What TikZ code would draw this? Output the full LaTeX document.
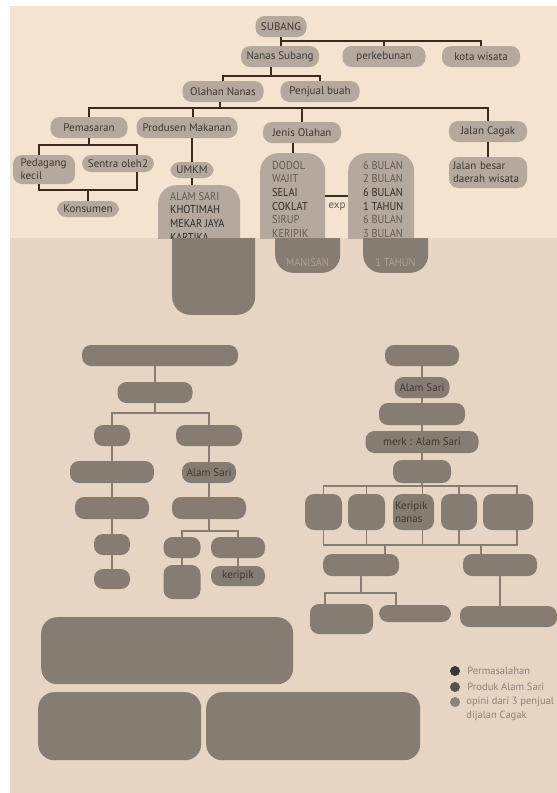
\documentclass[tikz,border=0pt]{standalone}
\usepackage{fontspec}
\setmainfont{PT Sans}
\newfontfamily\condfont[FakeStretch=0.9]{PT Sans}
\usetikzlibrary{positioning}
\definecolor{topbg}{HTML}{F3E3CF}
\definecolor{botbg}{HTML}{E5D5C2}
\definecolor{lite}{HTML}{B4A99C}
\definecolor{dark}{HTML}{877C72}
\definecolor{linebrown}{HTML}{3B2A20}
\definecolor{inktext}{HTML}{3D3733}
\definecolor{listink}{HTML}{2E2A27}
\definecolor{greytext}{HTML}{5F5A55}
\definecolor{paletext}{HTML}{ABA197}
\definecolor{legendtext}{HTML}{8C8178}
\definecolor{dotone}{HTML}{3A3734}
\definecolor{dottwo}{HTML}{57514C}
\definecolor{dotthree}{HTML}{8A8079}
\tikzset{
every node/.style={inner sep=0pt, font=\fontsize{11}{13}\selectfont, text=inktext}, % plain text everywhere
pill/.style={fill=lite, rounded corners=9pt, minimum height=21pt}, % light boxes of the upper tree
darkpill/.style={fill=dark, rounded corners=9pt, minimum height=21pt}, % dark boxes of the lower trees
bigbox/.style={fill=dark, rounded corners=16pt, anchor=north west}, % the three large boxes at the bottom
tall/.style={fill=lite, rounded corners=18pt, anchor=north west}, % list boxes, cut at the band edge
stub/.style={fill=dark, rounded corners=18pt, anchor=south west}, % their dark lower ends
list/.style={align=left, anchor=north west, font=\condfont\fontsize{11.5}{13.6}\selectfont, text=greytext},
tline/.style={draw=linebrown, line width=2pt}, % connectors of the upper tree
bline/.style={draw=dark, line width=1.3pt}, % connectors of the lower trees
legend/.style={text=legendtext, align=left, font=\fontsize{10.5}{14.5}\selectfont},
}
\begin{document}
\begin{tikzpicture}[x=1pt, y=-1pt]
  \useasboundingbox (0,0) rectangle (557,793);
  \fill[white] (0,0) rectangle (557,793);
  \fill[topbg] (10,6) rectangle (557,238);
  \fill[botbg] (10,238) rectangle (557,793);

  % upper tree
  \node[pill, minimum width=51pt] (subang) at (281,26.5) {SUBANG};
  \node[pill, minimum width=78pt] (nanas) at (280,56.5) {Nanas Subang};
  \node[pill, minimum width=83pt] (kebun) at (384,56.5) {perkebunan};
  \node[pill, minimum width=78pt] (kota) at (481,56.5) {kota wisata};
  \node[pill, minimum width=81pt] (olahan) at (223,91.5) {Olahan Nanas};
  \node[pill, minimum width=79pt] (penjual) at (320,91.5) {Penjual buah};
  \node[pill, minimum width=77pt] (pasar) at (89,127.5) {Pemasaran};
  \node[pill, minimum width=101pt] (produsen) at (187,127.5) {Produsen Makanan};
  \node[pill, minimum width=78pt] (jenis) at (302,132.5) {Jenis Olahan};
  \node[pill, minimum width=78pt] (cagak) at (488,131.5) {Jalan Cagak};
  \node[pill, minimum width=62pt, minimum height=29pt, align=left, text width=47pt] (pedagang) at (44,169.5) {Pedagang\\kecil};
  \node[pill, minimum width=72pt, minimum height=17pt] (sentra) at (118,163.5) {Sentra oleh2};
  \node[pill, minimum width=62pt, minimum height=16pt] (konsumen) at (88,209) {Konsumen};
  \node[pill, minimum width=43pt, minimum height=16pt] (umkm) at (192,170) {UMKM};
  \node[pill, minimum width=78pt, minimum height=31pt, align=left, text width=70pt] (besar) at (488,172.5) {Jalan besar\\daerah wisata};

  \coordinate (busa) at (0,41);
  \coordinate (busb) at (0,76);
  \coordinate (busc) at (0,108);
  \coordinate (busd) at (0,145);
  \coordinate (buse) at (0,190);
  \coordinate (expy) at (0,196);

  \draw[tline] (subang) -- (subang |- nanas.north);
  \draw[tline] (subang |- busa) -| (kota);
  \draw[tline] (kebun) -- (kebun |- busa);
  \draw[tline] ([xshift=-9pt]nanas.south) -- ([xshift=-9pt]nanas.south |- busb);
  \draw[tline] (olahan) |- (penjual |- busb) -- (penjual);
  \draw[tline] ([xshift=-3pt]olahan.south) -- ([xshift=-3pt]olahan.south |- busc);
  \draw[tline] (pasar) |- (cagak |- busc) -- (cagak);
  \draw[tline] ([xshift=6pt]produsen.north) -- ([xshift=6pt]produsen.north |- busc);
  \draw[tline] (jenis) -- (jenis |- busc);
  \draw[tline] (pasar) -- (pasar |- busd);
  \draw[tline] ([xshift=-5pt]pedagang.north) |- ([xshift=19pt]sentra.north |- busd) -- ([xshift=19pt]sentra.north);
  \draw[tline] ([xshift=-5pt]pedagang.south) |- ([xshift=19pt]sentra.south |- buse) -- ([xshift=19pt]sentra.south);
  \draw[tline] (konsumen) -- (konsumen |- buse);
  \draw[tline] (umkm) -- (umkm |- produsen.south);
  \draw[tline] (cagak) edge (besar);

  % list boxes, cut by the lower band
  \begin{scope}
    \clip (10,6) rectangle (557,238);
    \node[tall, minimum width=82pt, minimum height=80pt] (merkbox) at (158,185) {};
    \node[tall, minimum width=65pt, minimum height=110pt] (olahbox) at (260,153) {};
    \node[tall, minimum width=66pt, minimum height=110pt] (umurbox) at (348,153) {};
    \node[list] (merklist) at (170,192) {ALAM SARI\\\textcolor{listink}{KHOTIMAH}\\\textcolor{listink}{MEKAR JAYA}\\\textcolor{listink}{KARTIKA}};
    \node[list] (olahlist) at (272,161) {DODOL\\WAJIT\\\textcolor{listink}{SELAI}\\\textcolor{listink}{COKLAT}\\SIRUP\\KERIPIK};
    \node[list] (umurlist) at (363,161) {6 BULAN\\2 BULAN\\\textcolor{listink}{6 BULAN}\\\textcolor{listink}{1 TAHUN}\\6 BULAN\\3 BULAN};
  \end{scope}
  \draw[tline] (umkm) -- (umkm |- merkbox.north);
  \draw[tline] (olahbox.north) -- (olahbox.north |- jenis.south);
  \draw[tline] (olahbox.east |- expy) -- (umurbox.west |- expy);
  \node[text=greytext] (exp) at (337,207) {exp};

  \begin{scope}
    \clip (10,238) rectangle (557,793);
    \node[stub, minimum width=83pt, minimum height=100pt] (merkstub) at (172,315) {};
    \node[stub, minimum width=65pt, minimum height=60pt] (olahstub) at (275,273) {};
    \node[stub, minimum width=65pt, minimum height=60pt] (umurstub) at (363,273) {};
  \end{scope}
  \node[font=\condfont\fontsize{11.5}{14}\selectfont, text=paletext] (manisan) at (307.5,262) {MANISAN};
  \node[font=\condfont\fontsize{11.5}{14}\selectfont, text=paletext] (setahun) at (395.5,262) {1 TAHUN};

  % lower left tree
  \node[darkpill, minimum width=156pt] (l1) at (160,355.5) {};
  \node[darkpill, minimum width=75pt] (l2) at (155,392.5) {};
  \node[darkpill, minimum width=36pt] (l3) at (112,435.5) {};
  \node[darkpill, minimum width=66pt] (r3) at (209,435.5) {};
  \node[darkpill, minimum width=84pt, minimum height=22pt] (l4) at (112,472) {};
  \node[darkpill, minimum width=74pt, minimum height=22pt] (l5) at (112,508) {};
  \node[darkpill, minimum width=36pt] (l6) at (112,544.5) {};
  \node[darkpill, minimum width=36pt, minimum height=20pt] (l7) at (112,579) {};
  \node[darkpill, minimum width=54pt] (r4) at (209,472.5) {Alam Sari};
  \node[darkpill, minimum width=74pt, minimum height=22pt] (r5) at (209,508) {};
  \node[darkpill, minimum width=37pt] (r6a) at (182,547.5) {};
  \node[darkpill, minimum width=54pt] (r6b) at (238,547.5) {};
  \node[darkpill, minimum width=37pt, minimum height=34pt] (r7a) at (182,582) {};
  \node[darkpill, minimum width=54pt, minimum height=20pt] (r7b) at (238,576) {keripik};

  \coordinate (busf) at (0,413);
  \coordinate (busg) at (0,531);
  \draw[bline] (l2) -- (l2 |- l1.south);
  \draw[bline] (l2) -- (l2 |- busf);
  \draw[bline] (l3) |- (r3 |- busf) -- (r3);
  \draw[bline] (l3) edge (l4) (l4) edge (l5) (l5) edge (l6) (l6) edge (l7);
  \draw[bline] (r3) edge (r4) (r4) edge (r5);
  \draw[bline] (r5) -- (r5 |- busg);
  \draw[bline] (r6a) |- (r6b |- busg) -- (r6b);
  \draw[bline] (r6a) edge (r7a) (r6b) edge (r7b);

  % lower right tree
  \node[darkpill, minimum width=74pt] (t1) at (422,355.5) {};
  \node[darkpill, minimum width=55pt] (t2) at (422,387.5) {Alam Sari};
  \node[darkpill, minimum width=86pt, minimum height=22pt] (t3) at (422,414) {};
  \node[darkpill, minimum width=113pt, minimum height=22pt] (t4) at (422,442) {merk : Alam Sari};
  \node[darkpill, minimum width=58pt, minimum height=23pt] (t5) at (422,471.5) {};
  \node[darkpill, minimum width=37pt, minimum height=36pt] (k1) at (323.5,512) {};
  \node[darkpill, minimum width=37pt, minimum height=36pt] (k2) at (366.5,512) {};
  \node[darkpill, minimum width=41pt, minimum height=36pt, align=left, text width=37pt] (k3) at (413.5,512) {Keripik\\nanas};
  \node[darkpill, minimum width=36pt, minimum height=36pt] (k4) at (459,512) {};
  \node[darkpill, minimum width=50pt, minimum height=36pt] (k5) at (508,512) {};
  \node[darkpill, minimum width=76pt, minimum height=22pt] (m1) at (361,565) {};
  \node[darkpill, minimum width=74pt, minimum height=22pt] (m2) at (500,565) {};
  \node[darkpill, minimum width=63pt, minimum height=30pt] (n1) at (341.5,619) {};
  \node[darkpill, minimum width=72pt, minimum height=17pt] (n2) at (415,613.5) {};
  \node[darkpill, minimum width=97pt, minimum height=21pt] (n3) at (508.5,616.5) {};

  \coordinate (bush) at (0,486);
  \coordinate (busi) at (0,545);
  \coordinate (busj) at (0,593);
  \draw[bline] (t1) edge (t2) (t2) edge (t3) (t3) edge (t4) (t4) edge (t5);
  \draw[bline] (t5) -- (t5 |- bush);
  \draw[bline] (k1) |- ([xshift=9pt]k5.north |- bush) -- ([xshift=9pt]k5.north);
  \draw[bline] (k2) -- (k2 |- bush) ([xshift=9pt]k3.north) -- ([xshift=9pt]k3.north |- bush) (k4) -- (k4 |- bush);
  \draw[bline] (k1) |- ([xshift=9pt]k5.south |- busi) -- ([xshift=9pt]k5.south);
  \draw[bline] (k2) -- (k2 |- busi) ([xshift=9pt]k3.south) -- ([xshift=9pt]k3.south |- busi) (k4) -- (k4 |- busi);
  \draw[bline] ([xshift=24pt]m1.north) -- ([xshift=24pt]m1.north |- busi);
  \draw[bline] ([xshift=-19pt]m2.north) -- ([xshift=-19pt]m2.north |- busi);
  \draw[bline] (m1) -- (m1 |- busj);
  \draw[bline] ([xshift=-16.5pt]n1.north) |- ([xshift=-19pt]n2.north |- busj) -- ([xshift=-19pt]n2.north);
  \draw[bline] (m2) -- (m2 |- n3.north);

  % large boxes
  \node[bigbox, minimum width=252pt, minimum height=67pt] (pokok) at (41,617) {};
  \node[bigbox, minimum width=163pt, minimum height=68pt] (kiri) at (38,692) {};
  \node[bigbox, minimum width=214pt, minimum height=68pt] (kanan) at (206,692) {};

  % legend
  \node[circle, fill=dotone, minimum size=10pt] (dot1) at (455,671) {};
  \node[circle, fill=dottwo, minimum size=10pt] (dot2) at (455,687) {};
  \node[circle, fill=dotthree, minimum size=10pt] (dot3) at (455,702) {};
  \node[legend, right=7pt of dot1] (masalah) {Permasalahan};
  \node[legend, right=7pt of dot2] (produk) {Produk Alam Sari};
  \node[legend, right=6pt of dot3, yshift=-7pt] (opini) {opini dari 3 penjual\\dijalan Cagak};
\end{tikzpicture}
\end{document}
